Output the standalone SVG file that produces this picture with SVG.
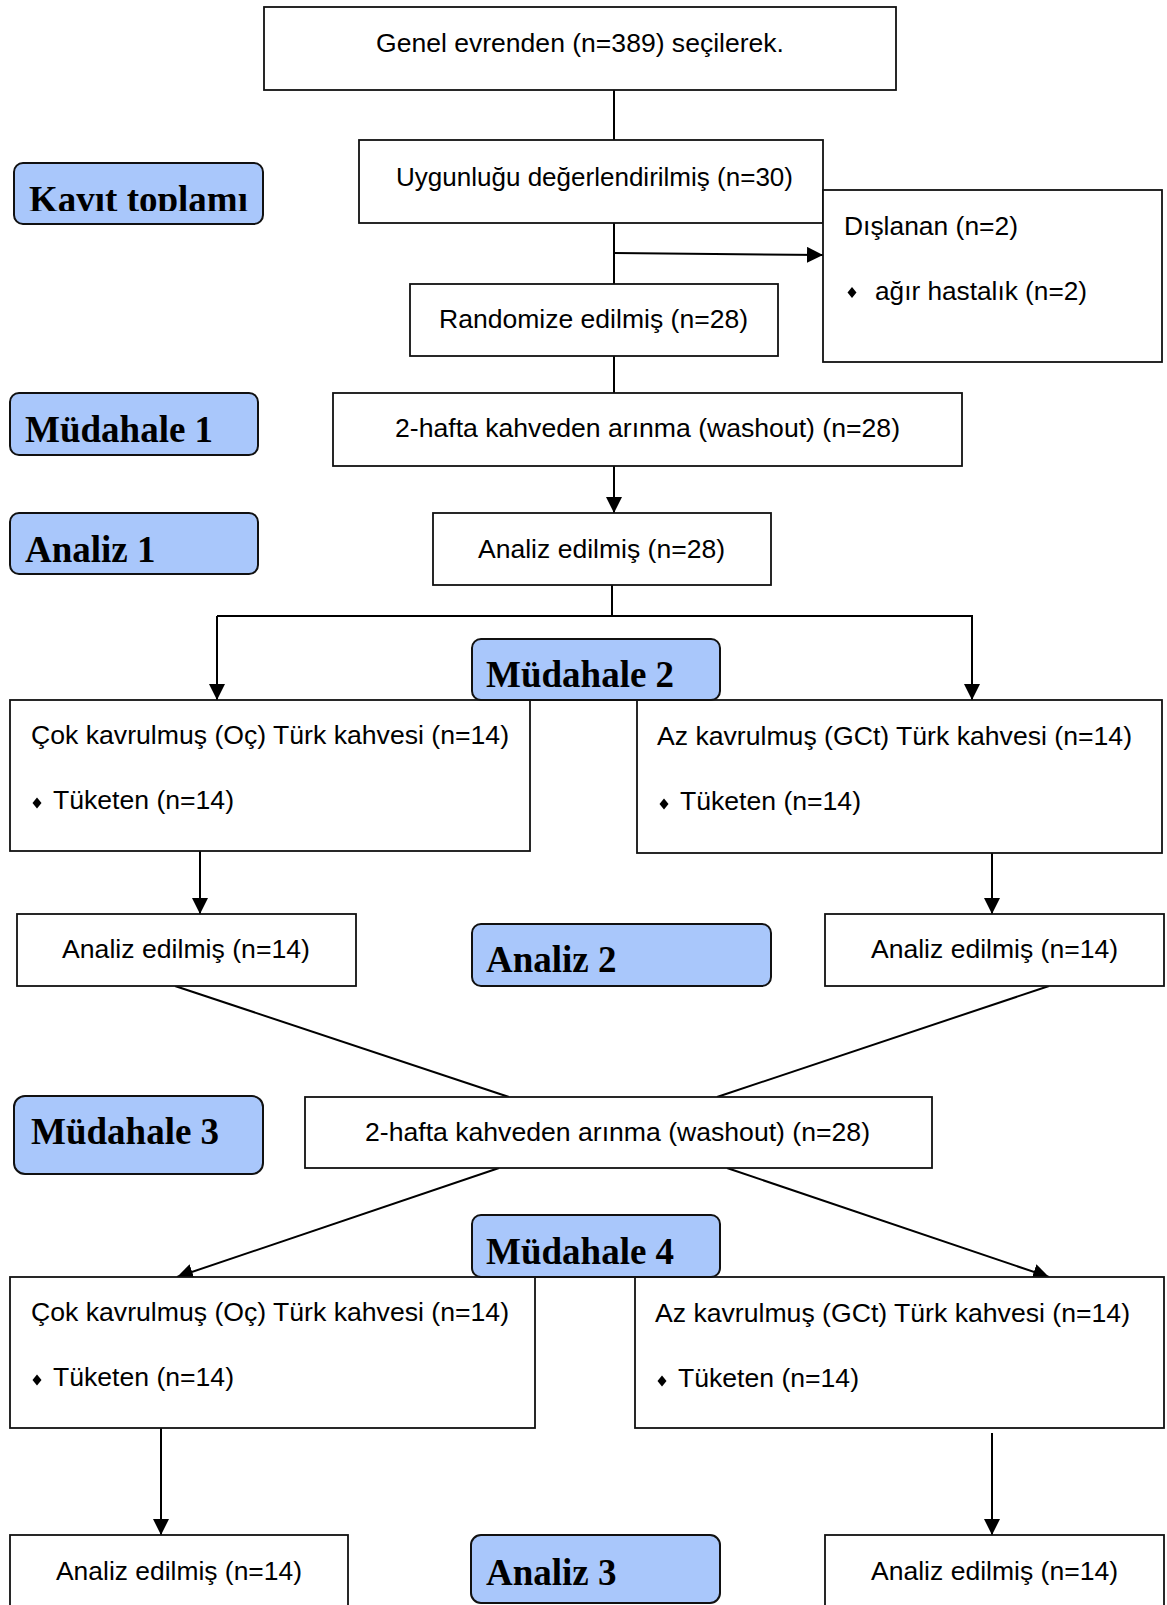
<svg xmlns="http://www.w3.org/2000/svg" width="1167" height="1605" viewBox="0 0 1167 1605">
<style>
.box{fill:#fff;stroke:#111;stroke-width:1.8}
.lab{fill:#a9c7fb;stroke:#111;stroke-width:2}
.t{font-family:"Liberation Sans",Arial,sans-serif;font-size:25px;fill:#000}
.h{font-family:"Liberation Serif","Times New Roman",serif;font-size:37px;font-weight:bold;fill:#000}
.c{fill:none;stroke:#000;stroke-width:2}
.d{fill:#000}
</style>
<defs>
<marker id="ah" markerUnits="userSpaceOnUse" markerWidth="16" markerHeight="16" viewBox="0 0 16 16" refX="16" refY="8" orient="auto">
<path d="M0,0 L16,8 L0,16 Z" fill="#000"/>
</marker>
<clipPath id="kclip"><rect x="14" y="163" width="249" height="48"/></clipPath>
</defs>
<rect width="1167" height="1605" fill="#fff"/>
<g id="connectors">
<line class="c" x1="614" y1="90" x2="614" y2="140" stroke-width="1.5"/>
<line class="c" x1="614" y1="223" x2="614" y2="284"/>
<line class="c" x1="614" y1="253" x2="823" y2="255" marker-end="url(#ah)"/>
<line class="c" x1="614" y1="356" x2="614" y2="393"/>
<line class="c" x1="614" y1="466" x2="614" y2="513" marker-end="url(#ah)"/>
<line class="c" x1="612" y1="585" x2="612" y2="616"/>
<polyline class="c" points="217,616 972,616 972,700" marker-end="url(#ah)"/>
<line class="c" x1="217" y1="616" x2="217" y2="700" marker-end="url(#ah)"/>
<line class="c" x1="200" y1="851" x2="200" y2="914" marker-end="url(#ah)"/>
<line class="c" x1="992" y1="853" x2="992" y2="914" marker-end="url(#ah)"/>
<line class="c" x1="175" y1="986" x2="509" y2="1097"/>
<line class="c" x1="1049" y1="986" x2="717" y2="1097"/>
<line class="c" x1="499" y1="1168" x2="177" y2="1277" marker-end="url(#ah)"/>
<line class="c" x1="727" y1="1168" x2="1049" y2="1277" marker-end="url(#ah)"/>
<line class="c" x1="161" y1="1428" x2="161" y2="1535" marker-end="url(#ah)"/>
<line class="c" x1="992" y1="1433" x2="992" y2="1535" marker-end="url(#ah)"/>
</g>
<g id="n-genel"><rect class="box" x="264" y="7" width="632" height="83"/><text class="t" x="376" y="52" textLength="408" lengthAdjust="spacingAndGlyphs">Genel evrenden (n=389) seçilerek.</text></g>
<g id="n-uygun"><rect class="box" x="359" y="140" width="464" height="83"/><text class="t" x="396" y="186" textLength="397" lengthAdjust="spacingAndGlyphs">Uygunluğu değerlendirilmiş (n=30)</text></g>
<g id="n-dislanan"><rect class="box" x="823" y="190" width="339" height="172"/><text class="t" x="844" y="235" textLength="174" lengthAdjust="spacingAndGlyphs">Dışlanan (n=2)</text><polygon class="d" points="852,287 856.5,292.5 852,298 847.5,292.5"/><text class="t" x="875" y="300" textLength="212" lengthAdjust="spacingAndGlyphs">ağır hastalık (n=2)</text></g>
<g id="n-random"><rect class="box" x="410" y="284" width="368" height="72"/><text class="t" x="439" y="328" textLength="309" lengthAdjust="spacingAndGlyphs">Randomize edilmiş (n=28)</text></g>
<g id="n-washout1"><rect class="box" x="333" y="393" width="629" height="73"/><text class="t" x="395" y="437" textLength="505" lengthAdjust="spacingAndGlyphs">2-hafta kahveden arınma (washout) (n=28)</text></g>
<g id="n-analiz28"><rect class="box" x="433" y="513" width="338" height="72"/><text class="t" x="478" y="558" textLength="247" lengthAdjust="spacingAndGlyphs">Analiz edilmiş (n=28)</text></g>
<g id="n-cok1"><rect class="box" x="10" y="700" width="520" height="151"/><text class="t" x="31" y="744" textLength="478" lengthAdjust="spacingAndGlyphs">Çok kavrulmuş (Oç) Türk kahvesi (n=14)</text><polygon class="d" points="37,797.5 41.5,803 37,808.5 32.5,803"/><text class="t" x="53" y="809" textLength="181" lengthAdjust="spacingAndGlyphs">Tüketen (n=14)</text></g>
<g id="n-az1"><rect class="box" x="637" y="700" width="525" height="153"/><text class="t" x="657" y="745" textLength="475" lengthAdjust="spacingAndGlyphs">Az kavrulmuş (GCt) Türk kahvesi (n=14)</text><polygon class="d" points="664,798.5 668.5,804 664,809.5 659.5,804"/><text class="t" x="680" y="810" textLength="181" lengthAdjust="spacingAndGlyphs">Tüketen (n=14)</text></g>
<g id="n-analizL1"><rect class="box" x="17" y="914" width="339" height="72"/><text class="t" x="62" y="958" textLength="248" lengthAdjust="spacingAndGlyphs">Analiz edilmiş (n=14)</text></g>
<g id="n-analizR1"><rect class="box" x="825" y="914" width="339" height="72"/><text class="t" x="871" y="958" textLength="247" lengthAdjust="spacingAndGlyphs">Analiz edilmiş (n=14)</text></g>
<g id="n-washout2"><rect class="box" x="305" y="1097" width="627" height="71"/><text class="t" x="365" y="1141" textLength="505" lengthAdjust="spacingAndGlyphs">2-hafta kahveden arınma (washout) (n=28)</text></g>
<g id="n-cok2"><rect class="box" x="10" y="1277" width="525" height="151"/><text class="t" x="31" y="1321" textLength="478" lengthAdjust="spacingAndGlyphs">Çok kavrulmuş (Oç) Türk kahvesi (n=14)</text><polygon class="d" points="37,1374.5 41.5,1380 37,1385.5 32.5,1380"/><text class="t" x="53" y="1386" textLength="181" lengthAdjust="spacingAndGlyphs">Tüketen (n=14)</text></g>
<g id="n-az2"><rect class="box" x="635" y="1277" width="529" height="151"/><text class="t" x="655" y="1322" textLength="475" lengthAdjust="spacingAndGlyphs">Az kavrulmuş (GCt) Türk kahvesi (n=14)</text><polygon class="d" points="662,1375.5 666.5,1381 662,1386.5 657.5,1381"/><text class="t" x="678" y="1387" textLength="181" lengthAdjust="spacingAndGlyphs">Tüketen (n=14)</text></g>
<g id="n-analizL2"><rect class="box" x="10" y="1535" width="338" height="80"/><text class="t" x="56" y="1580" textLength="246" lengthAdjust="spacingAndGlyphs">Analiz edilmiş (n=14)</text></g>
<g id="n-analizR2"><rect class="box" x="825" y="1535" width="339" height="80"/><text class="t" x="871" y="1580" textLength="247" lengthAdjust="spacingAndGlyphs">Analiz edilmiş (n=14)</text></g>
<g id="l-kavit"><rect class="lab" x="14" y="163" width="249" height="61" rx="9"/><text class="h" x="29" y="212" font-size="38" clip-path="url(#kclip)">Kavıt toplamı</text></g>
<g id="l-mud1"><rect class="lab" x="10" y="393" width="248" height="62" rx="9"/><text class="h" x="25" y="442">Müdahale 1</text></g>
<g id="l-an1"><rect class="lab" x="10" y="513" width="248" height="61" rx="9"/><text class="h" x="25" y="562">Analiz 1</text></g>
<g id="l-mud2"><rect class="lab" x="472" y="639" width="248" height="61" rx="9"/><text class="h" x="486" y="687">Müdahale 2</text></g>
<g id="l-an2"><rect class="lab" x="472" y="924" width="299" height="62" rx="9"/><text class="h" x="486" y="972">Analiz 2</text></g>
<g id="l-mud3"><rect class="lab" x="14" y="1096" width="249" height="78" rx="11"/><text class="h" x="31" y="1144">Müdahale 3</text></g>
<g id="l-mud4"><rect class="lab" x="472" y="1215" width="248" height="62" rx="9"/><text class="h" x="486" y="1264">Müdahale 4</text></g>
<g id="l-an3"><rect class="lab" x="471" y="1535" width="249" height="68" rx="10"/><text class="h" x="486" y="1585">Analiz 3</text></g>
</svg>
